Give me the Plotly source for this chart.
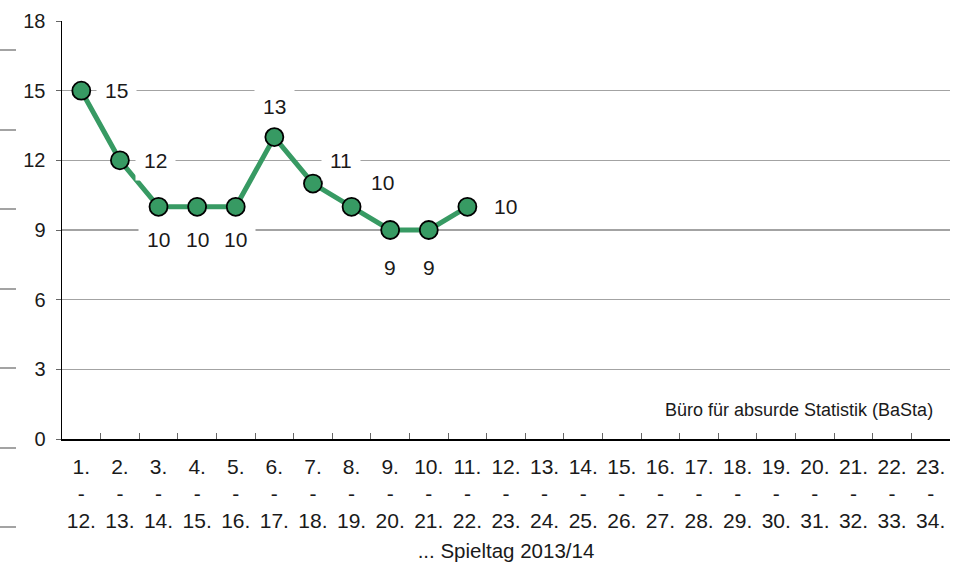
import plotly.graph_objects as go

# ---- data ----
start_days = [f"{i}." for i in range(1, 24)]
end_days = [f"{i}." for i in range(12, 35)]
categories = [f"{a}<br>-<br>{b}" for a, b in zip(start_days, end_days)]
values = [15, 12, 10, 10, 10, 13, 11, 10, 9, 9, 10]
y_ticks = [0, 3, 6, 9, 12, 15, 18]
x_title = "... Spieltag 2013/14"
source = "Büro für absurde Statistik (BaSta)"

# ---- style ----
FONT = "Liberation Sans, Arial, sans-serif"
GREEN = "#379a63"
GRID = "#a3a3a3"
label_dx = [35, 36, 0, 0, 0, 0, 28, 31, 0, 0, 38]
label_dy = [0, 0, -33, -33, -33, 31, 23, 24, -37, -37, 0]

W, H = 955, 564
L, PW, T, PH = 62, 888, 21, 418

fig = go.Figure()
fig.add_trace(go.Scatter(
    x=categories[:len(values)], y=values, mode="lines+markers",
    line=dict(color=GREEN, width=5),
    marker=dict(size=18, color=GREEN, line=dict(color="black", width=1.8)),
    hoverinfo="skip", showlegend=False,
))

annotations = []
for cat, v, dx, dy in zip(categories, values, label_dx, label_dy):
    annotations.append(dict(
        x=cat, y=v, xref="x", yref="y", text=str(v), showarrow=False,
        xshift=dx, yshift=dy, bgcolor="white", borderpad=8,
        font=dict(family=FONT, size=21, color="#1a1a1a"),
    ))
annotations.append(dict(
    x=1 - 15 / PW, y=(T + PH - 410) / PH, xref="paper", yref="paper", text=source,
    showarrow=False, xanchor="right", yanchor="middle",
    font=dict(family=FONT, size=18, color="#1a1a1a"),
))

# decorative short dashes at the far left (present in the original image)
dash_px = [50, 130, 209, 289, 368, 448, 527]
shapes = []
for py in dash_px:
    yp = (T + PH - py) / PH
    shapes.append(dict(type="line", xref="paper", yref="paper",
                       x0=(0 - L) / PW, x1=(16 - L) / PW, y0=yp, y1=yp,
                       line=dict(color=GRID, width=2)))

fig.update_layout(
    width=W, height=H,
    margin=dict(l=L, r=W - L - PW, t=T, b=H - T - PH, pad=0),
    paper_bgcolor="white", plot_bgcolor="white",
    font=dict(family=FONT, size=20, color="#1a1a1a"),
    annotations=annotations, shapes=shapes,
    xaxis=dict(
        type="category", categoryorder="array", categoryarray=categories,
        range=[-0.5, len(categories) - 0.5],
        showline=True, linecolor="black", linewidth=1.5,
        ticks="inside", tickson="boundaries", ticklen=6, tickcolor="#666", tickwidth=1,
        showgrid=False, tickfont=dict(size=21), ticklabelstandoff=8,
        title=dict(text=x_title, font=dict(size=20.5), standoff=12),
        automargin=False,
    ),
    yaxis=dict(
        range=[0, 18], tickvals=y_ticks,
        showline=True, linecolor="black", linewidth=1.5,
        ticks="outside", ticklen=5, tickcolor="#666",
        showgrid=True, gridcolor=GRID, gridwidth=1.5, zeroline=False,
        tickfont=dict(size=20), ticklabelstandoff=6,
        automargin=False,
    ),
)

fig.write_html("out.html", config={"displayModeBar": False, "staticPlot": True},
               post_script="document.body.style.margin='0';document.body.style.padding='0';")
